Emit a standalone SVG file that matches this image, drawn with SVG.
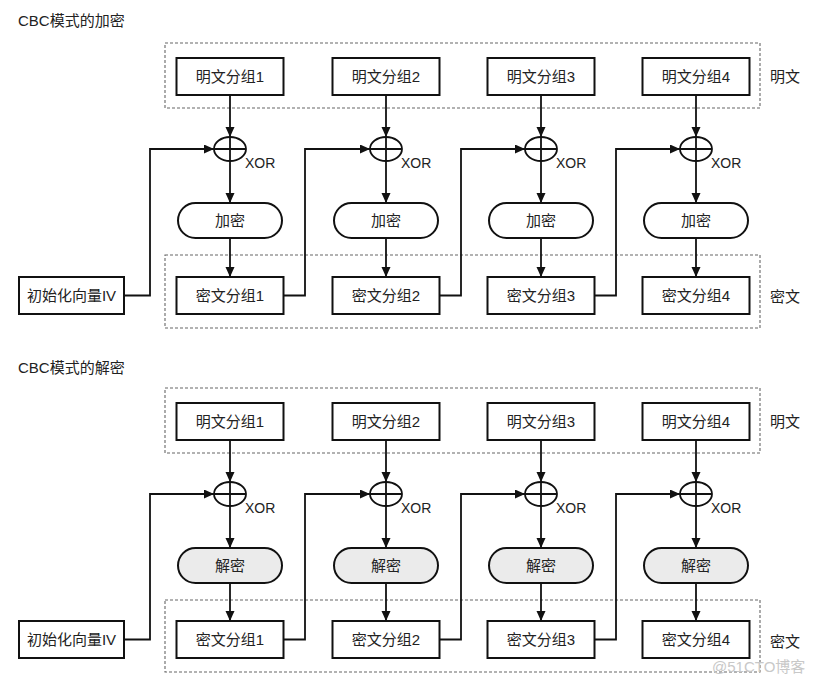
<svg xmlns="http://www.w3.org/2000/svg" width="821" height="687" viewBox="0 0 821 687">
<defs>
<marker id="ah" markerWidth="11" markerHeight="10" refX="10" refY="4.5" orient="auto" markerUnits="userSpaceOnUse">
<path d="M0,0 L10,4.5 L0,9 Z" fill="#111"/>
</marker>
<style>
text{font-family:"Liberation Sans","Noto Sans CJK SC",sans-serif;font-size:15px;fill:#222}
.c{text-anchor:middle}
.x{font-size:14px}
.box{fill:#fff;stroke:#111;stroke-width:2}
.grp{fill:none;stroke:#666;stroke-width:1.1;stroke-dasharray:3 2}
.pill{fill:#fff;stroke:#111;stroke-width:2}
.pillg{fill:#ebebeb;stroke:#111;stroke-width:2}
.xor{fill:#fff;stroke:#111;stroke-width:1.8}
.ln{fill:none;stroke:#111;stroke-width:1.8}
.ar{fill:none;stroke:#111;stroke-width:1.8;marker-end:url(#ah)}
.wm{fill:#c8c8c8;font-size:15px}
</style>
</defs>
<rect width="821" height="687" fill="#fff"/>

<!-- ===== Encryption ===== -->
<text x="18" y="26">CBC模式的加密</text>
<g id="enc-plain-group"><rect class="grp" x="165" y="43" width="595" height="65"/><text x="770" y="82">明文</text></g>
<g id="enc-cipher-group"><rect class="grp" x="165" y="255" width="595" height="73"/><text x="770" y="302">密文</text></g>

<g id="enc-p1"><rect class="box" x="176.5" y="58" width="107" height="37"/><text class="c" x="230" y="82">明文分组1</text></g>
<g id="enc-p2"><rect class="box" x="332.5" y="58" width="107" height="37"/><text class="c" x="386" y="82">明文分组2</text></g>
<g id="enc-p3"><rect class="box" x="487.5" y="58" width="107" height="37"/><text class="c" x="541" y="82">明文分组3</text></g>
<g id="enc-p4"><rect class="box" x="642.5" y="58" width="107" height="37"/><text class="c" x="696" y="82">明文分组4</text></g>

<g id="enc-x1"><ellipse class="xor" cx="230" cy="149" rx="16" ry="12"/><path class="ln" d="M214,149H246M230,137V161"/><text class="x" x="245" y="168">XOR</text></g>
<g id="enc-x2"><ellipse class="xor" cx="386" cy="149" rx="16" ry="12"/><path class="ln" d="M370,149H402M386,137V161"/><text class="x" x="401" y="168">XOR</text></g>
<g id="enc-x3"><ellipse class="xor" cx="541" cy="149" rx="16" ry="12"/><path class="ln" d="M525,149H557M541,137V161"/><text class="x" x="556" y="168">XOR</text></g>
<g id="enc-x4"><ellipse class="xor" cx="696" cy="149" rx="16" ry="12"/><path class="ln" d="M680,149H712M696,137V161"/><text class="x" x="711" y="168">XOR</text></g>

<g id="enc-e1"><rect class="pill" x="178" y="203" width="104" height="35" rx="17.5"/><text class="c" x="230" y="226">加密</text></g>
<g id="enc-e2"><rect class="pill" x="334" y="203" width="104" height="35" rx="17.5"/><text class="c" x="386" y="226">加密</text></g>
<g id="enc-e3"><rect class="pill" x="489" y="203" width="104" height="35" rx="17.5"/><text class="c" x="541" y="226">加密</text></g>
<g id="enc-e4"><rect class="pill" x="644" y="203" width="104" height="35" rx="17.5"/><text class="c" x="696" y="226">加密</text></g>

<g id="enc-c1"><rect class="box" x="176.5" y="277" width="107" height="37"/><text class="c" x="230" y="301">密文分组1</text></g>
<g id="enc-c2"><rect class="box" x="332.5" y="277" width="107" height="37"/><text class="c" x="386" y="301">密文分组2</text></g>
<g id="enc-c3"><rect class="box" x="487.5" y="277" width="107" height="37"/><text class="c" x="541" y="301">密文分组3</text></g>
<g id="enc-c4"><rect class="box" x="642.5" y="277" width="107" height="37"/><text class="c" x="696" y="301">密文分组4</text></g>

<g id="enc-iv"><rect class="box" x="19" y="277" width="105" height="37"/><text class="c" x="71.5" y="301">初始化向量IV</text></g>

<g id="enc-connectors">
<path class="ar" d="M230,95V137"/><path class="ar" d="M386,95V137"/><path class="ar" d="M541,95V137"/><path class="ar" d="M696,95V137"/>
<path class="ar" d="M230,161V203"/><path class="ar" d="M386,161V203"/><path class="ar" d="M541,161V203"/><path class="ar" d="M696,161V203"/>
<path class="ar" d="M230,238V277"/><path class="ar" d="M386,238V277"/><path class="ar" d="M541,238V277"/><path class="ar" d="M696,238V277"/>
<path class="ar" d="M124,295.5H150V149H214"/>
<path class="ar" d="M283.5,295.5H305V149H370"/>
<path class="ar" d="M439.5,295.5H461V149H525"/>
<path class="ar" d="M594.5,295.5H616V149H680"/>
</g>

<!-- ===== Decryption ===== -->
<text x="18" y="373">CBC模式的解密</text>
<g id="dec-plain-group"><rect class="grp" x="165" y="388" width="595" height="65"/><text x="770" y="427">明文</text></g>
<g id="dec-cipher-group"><rect class="grp" x="165" y="600" width="595" height="72"/><text x="770" y="647">密文</text></g>

<g id="dec-p1"><rect class="box" x="176.5" y="403" width="107" height="37"/><text class="c" x="230" y="427">明文分组1</text></g>
<g id="dec-p2"><rect class="box" x="332.5" y="403" width="107" height="37"/><text class="c" x="386" y="427">明文分组2</text></g>
<g id="dec-p3"><rect class="box" x="487.5" y="403" width="107" height="37"/><text class="c" x="541" y="427">明文分组3</text></g>
<g id="dec-p4"><rect class="box" x="642.5" y="403" width="107" height="37"/><text class="c" x="696" y="427">明文分组4</text></g>

<g id="dec-x1"><ellipse class="xor" cx="230" cy="494" rx="16" ry="12"/><path class="ln" d="M214,494H246M230,482V506"/><text class="x" x="245" y="513">XOR</text></g>
<g id="dec-x2"><ellipse class="xor" cx="386" cy="494" rx="16" ry="12"/><path class="ln" d="M370,494H402M386,482V506"/><text class="x" x="401" y="513">XOR</text></g>
<g id="dec-x3"><ellipse class="xor" cx="541" cy="494" rx="16" ry="12"/><path class="ln" d="M525,494H557M541,482V506"/><text class="x" x="556" y="513">XOR</text></g>
<g id="dec-x4"><ellipse class="xor" cx="696" cy="494" rx="16" ry="12"/><path class="ln" d="M680,494H712M696,482V506"/><text class="x" x="711" y="513">XOR</text></g>

<g id="dec-d1"><rect class="pillg" x="178" y="548" width="104" height="35" rx="17.5"/><text class="c" x="230" y="571">解密</text></g>
<g id="dec-d2"><rect class="pillg" x="334" y="548" width="104" height="35" rx="17.5"/><text class="c" x="386" y="571">解密</text></g>
<g id="dec-d3"><rect class="pillg" x="489" y="548" width="104" height="35" rx="17.5"/><text class="c" x="541" y="571">解密</text></g>
<g id="dec-d4"><rect class="pillg" x="644" y="548" width="104" height="35" rx="17.5"/><text class="c" x="696" y="571">解密</text></g>

<g id="dec-c1"><rect class="box" x="176.5" y="621" width="107" height="37"/><text class="c" x="230" y="645">密文分组1</text></g>
<g id="dec-c2"><rect class="box" x="332.5" y="621" width="107" height="37"/><text class="c" x="386" y="645">密文分组2</text></g>
<g id="dec-c3"><rect class="box" x="487.5" y="621" width="107" height="37"/><text class="c" x="541" y="645">密文分组3</text></g>
<g id="dec-c4"><rect class="box" x="642.5" y="621" width="107" height="37"/><text class="c" x="696" y="645">密文分组4</text></g>

<g id="dec-iv"><rect class="box" x="19" y="621" width="105" height="37"/><text class="c" x="71.5" y="645">初始化向量IV</text></g>

<g id="dec-connectors">
<path class="ar" d="M230,440V482"/><path class="ar" d="M386,440V482"/><path class="ar" d="M541,440V482"/><path class="ar" d="M696,440V482"/>
<path class="ar" d="M230,506V548"/><path class="ar" d="M386,506V548"/><path class="ar" d="M541,506V548"/><path class="ar" d="M696,506V548"/>
<path class="ar" d="M230,583V621"/><path class="ar" d="M386,583V621"/><path class="ar" d="M541,583V621"/><path class="ar" d="M696,583V621"/>
<path class="ar" d="M124,639.5H150V494H214"/>
<path class="ar" d="M283.5,639.5H305V494H370"/>
<path class="ar" d="M439.5,639.5H461V494H525"/>
<path class="ar" d="M594.5,639.5H616V494H680"/>
</g>

<text class="wm" x="712" y="672">@51CTO博客</text>
</svg>
